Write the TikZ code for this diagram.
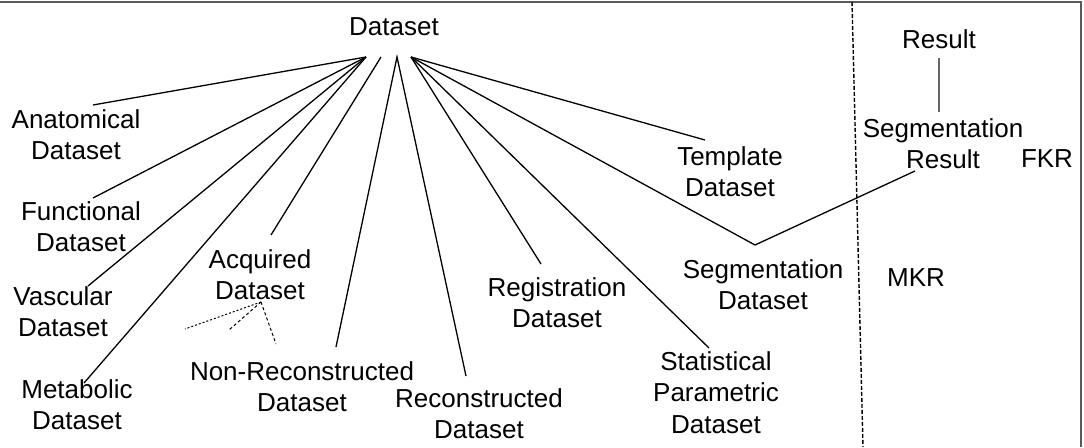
\documentclass[tikz,border=0pt]{standalone}
\usepackage{fontspec}
\setmainfont{Liberation Sans}
\begin{document}
\begin{tikzpicture}[x=1pt,y=-1pt,
  lbl/.style={inner sep=0pt,anchor=north,align=center,font=\fontsize{26}{31.5}\selectfont},
  link/.style={line width=1.3pt},
  sublink/.style={line width=1pt,dash pattern=on 3pt off 2.5pt}]
\useasboundingbox (0,0) rectangle (1084,447);
\draw[gray!70!black,line width=2pt] (0,1.5) -- (1081,1.5) -- (1081,447);
\draw[line width=1.4pt,dash pattern=on 4pt off 2pt] (852,2) -- (863,447);
\node[lbl] (root) at (394,17) {Dataset};
\node[lbl] (anat) at (76,109) {Anatomical\\Dataset};
\node[lbl] (func) at (81,201) {Functional\\Dataset};
\node[lbl] (vasc) at (63,286) {Vascular\\Dataset};
\node[lbl] (metab) at (77,379) {Metabolic\\Dataset};
\node[lbl] (acq) at (260,249) {Acquired\\Dataset};
\node[lbl] (nonrec) at (302,361) {Non-Reconstructed\\Dataset};
\node[lbl] (rec) at (479,388) {Reconstructed\\Dataset};
\node[lbl] (reg) at (557,277) {Registration\\Dataset};
\node[lbl] (stat) at (716,351) {Statistical\\Parametric\\Dataset};
\node[lbl] (segd) at (763,259) {Segmentation\\Dataset};
\node[lbl] (tmpl) at (730,146) {Template\\Dataset};
\node[lbl] (segr) at (943,118) {Segmentation\\Result};
\node[lbl] (result) at (939,29) {Result};
\node[lbl] (fkr) at (1047,149) {FKR};
\node[lbl] (mkr) at (916,268) {MKR};
\coordinate (hubL) at (366,57);
\coordinate (hubM) at (381,57);
\coordinate (hubV) at (397,57);
\coordinate (hubR) at (411,57);
\coordinate (vee) at ([xshift=-8pt,yshift=14pt]segd.north);
\draw[link] (hubL) -- ([xshift=17pt,yshift=4pt]anat.north);
\draw[link] (hubL) -- ([xshift=12pt,yshift=3pt]func.north);
\draw[link] (hubL) -- ([xshift=25pt]vasc.north);
\draw[link] (hubL) -- ([xshift=7pt,yshift=-4pt]metab.north);
\draw[link] (hubM) -- ([xshift=11pt,yshift=14pt]acq.north);
\draw[link] ([xshift=34pt,yshift=14pt]nonrec.north) -- (hubV) -- ([xshift=-13pt,yshift=12pt]rec.north);
\draw[link] (hubR) -- ([xshift=-16pt,yshift=13pt]reg.north);
\draw[link] (hubR) -- ([xshift=-7pt,yshift=3pt]stat.north);
\draw[link] (hubR) -- ([xshift=-25pt,yshift=6pt]tmpl.north);
\draw[link] (hubR) -- (vee) -- ([xshift=-28pt,yshift=-2pt]segr.south);
\draw[gray!80!black,line width=1.5pt,shorten <=10pt,shorten >=6pt] (result.south) -- (result.south |- segr.north);
\coordinate (acqfoot) at ([xshift=1pt,yshift=-2pt]acq.south);
\draw[sublink,dash pattern=on 2pt off 2pt] (acqfoot) -- (185,329);
\draw[sublink] (acqfoot) -- (229,330);
\draw[sublink] (acqfoot) -- (276,344);
\end{tikzpicture}
\end{document}
